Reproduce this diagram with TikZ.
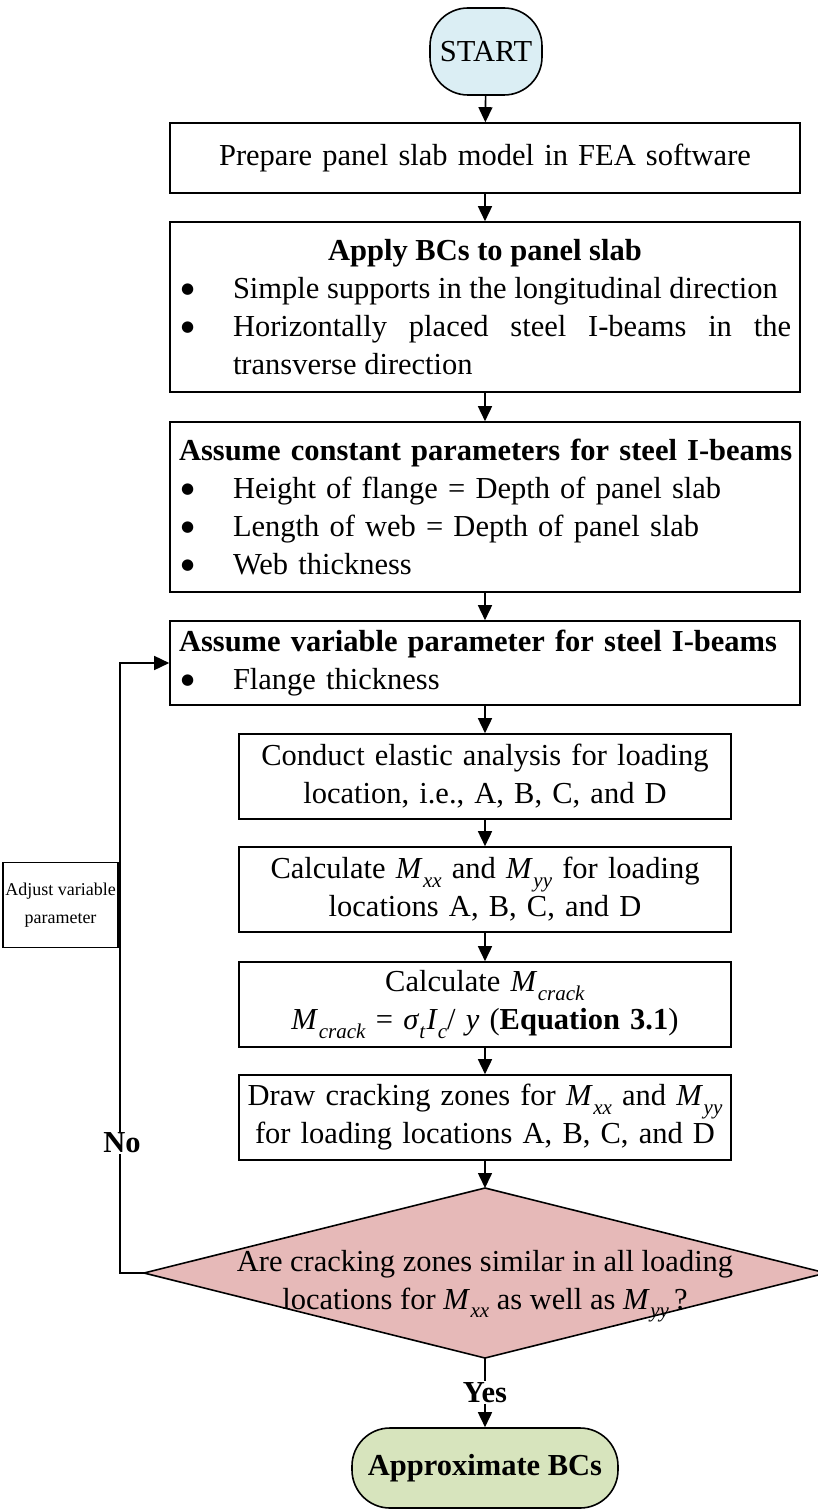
\documentclass[tikz,border=0pt]{standalone}
\usepackage{fontspec}
\setmainfont{Liberation Serif}
\newfontfamily\symfont{DejaVu Sans}
\usetikzlibrary{arrows.meta}
\definecolor{startblue}{HTML}{DBEEF4}
\definecolor{diared}{HTML}{E6B9B8}
\definecolor{endgreen}{HTML}{D7E4BD}
\newcommand{\subsz}{\fontsize{21pt}{21pt}\selectfont}
\newcommand{\Mi}[1]{\textit{M}\kern0.5pt\raisebox{-0.27em}{\subsz\textit{#1}}}
\newcommand{\Sb}[1]{\raisebox{-0.27em}{\subsz\textit{#1}}}
\newcommand{\bul}[1]{\par\noindent\hangindent=54pt\hangafter=1\makebox[54pt][l]{\hspace{2pt}\raisebox{5pt}{\symfont\fontsize{15pt}{15pt}\selectfont ●}}#1}
\tikzset{
  basefont/.style={font=\fontsize{30.5pt}{38pt}\selectfont},
  box/.style={draw, line width=1.6pt, fill=white, basefont, inner xsep=0pt, inner ysep=4pt},
  terminal/.style={draw, line width=1.6pt, basefont, inner sep=2pt},
  arr/.style={line width=1.6pt, -{Triangle[length=15pt,width=14pt]}},
  lbl/.style={fill=white, inner sep=1pt, font=\fontsize{30.5pt}{38pt}\selectfont\bfseries}
}
\begin{document}
\begin{tikzpicture}[x=1pt,y=-1pt]
\useasboundingbox (0,0) rectangle (817,1511);
\fill[white] (0,0) rectangle (817,1511);

\node[terminal, fill=startblue, minimum width=112pt, minimum height=87pt, rounded corners=38pt] (start) at (486,51.5) {START};

\node[box, minimum width=630pt, minimum height=70pt, text width=612pt, align=center] (b1) at (485,158) {Prepare panel slab model in FEA software};

\node[box, minimum width=630pt, minimum height=170pt, text width=612pt, align=justify] (b2) at (485,307)
{{\centering\bfseries Apply BCs to panel slab\par}%
\bul{Simple supports in the longitudinal direction}%
\bul{Horizontally placed steel I-beams in the\linebreak transverse direction}\par};

\node[box, minimum width=630pt, minimum height=170pt, text width=612pt, align=left] (b3) at (485,507)
{\noindent\mbox{\textbf{Assume constant parameters for steel I-beams}}%
\bul{Height of flange = Depth of panel slab}%
\bul{Length of web = Depth of panel slab}%
\bul{Web thickness}\par};

\node[box, minimum width=630pt, minimum height=84pt, text width=612pt, align=left] (b4) at (485,663)
{\noindent\mbox{\textbf{Assume variable parameter for steel I-beams}}%
\bul{Flange thickness}\par};

\node[box, minimum width=492pt, minimum height=85pt, text width=486pt, align=center] (b5) at (485,776.5)
{Conduct elastic analysis for loading\\location, i.e., A, B, C, and D};

\node[box, minimum width=492pt, minimum height=85pt, text width=486pt, align=center] (b6) at (485,889.5)
{Calculate \Mi{xx} and \Mi{yy} for loading\\locations A, B, C, and D};

\node[box, minimum width=492pt, minimum height=85pt, text width=486pt, align=center] (b7) at (485,1004.5)
{Calculate \Mi{crack}\\\Mi{crack} = \textit{σ}\Sb{t}\kern1pt\textit{I}\Sb{c}/ \textit{y} (\textbf{Equation 3.1})};

\node[box, minimum width=492pt, minimum height=85pt, text width=486pt, align=center] (b8) at (485,1117.5)
{\mbox{Draw cracking zones for \Mi{xx} and \Mi{yy}}\\for loading locations A, B, C, and D};

% decision diamond
\coordinate (dtop) at (485,1188);
\coordinate (dbot) at (485,1358);
\coordinate (dl) at (144,1273);
\coordinate (dr) at (826,1273);
\draw[fill=diared, line width=1.6pt, line join=miter] (dtop) -- (dr) -- (dbot) -- (dl) -- cycle;
\node[basefont, align=center, inner sep=0pt] (dq) at (485,1286)
{Are cracking zones similar in all loading\\locations for \Mi{xx} as well as \Mi{yy}\,?};

\node[terminal, fill=endgreen, minimum width=266pt, minimum height=80pt, rounded corners=38pt, font=\fontsize{30.5pt}{38pt}\selectfont\bfseries] (end) at (485,1468) {Approximate BCs};

% main flow
\draw[arr] (start) -- (b1);
\draw[arr] (b1) -- (b2);
\draw[arr] (b2) -- (b3);
\draw[arr] (b3) -- (b4);
\draw[arr] (b4.south -| b5) -- (b5);
\draw[arr] (b5) -- (b6);
\draw[arr] (b6) -- (b7);
\draw[arr] (b7) -- (b8);
\draw[arr] (b8) -- (dtop);
\draw[arr] (dbot) -- node[lbl] (yes) {Yes} (end);

% loop back
\coordinate (lc) at (120,1273);
\coordinate (lt) at (120,663);
\draw[arr] (dl) -- (lc) -- (lt) -- (b4.west);
\node[lbl] (no) at (122,1143) {No};
\node[draw, line width=1.6pt, fill=white, align=center, font=\fontsize{18pt}{28pt}\selectfont, minimum width=113pt, minimum height=85pt, inner sep=2pt] (adj) at (60.5,905) {Adjust variable\\parameter};
\end{tikzpicture}
\end{document}
